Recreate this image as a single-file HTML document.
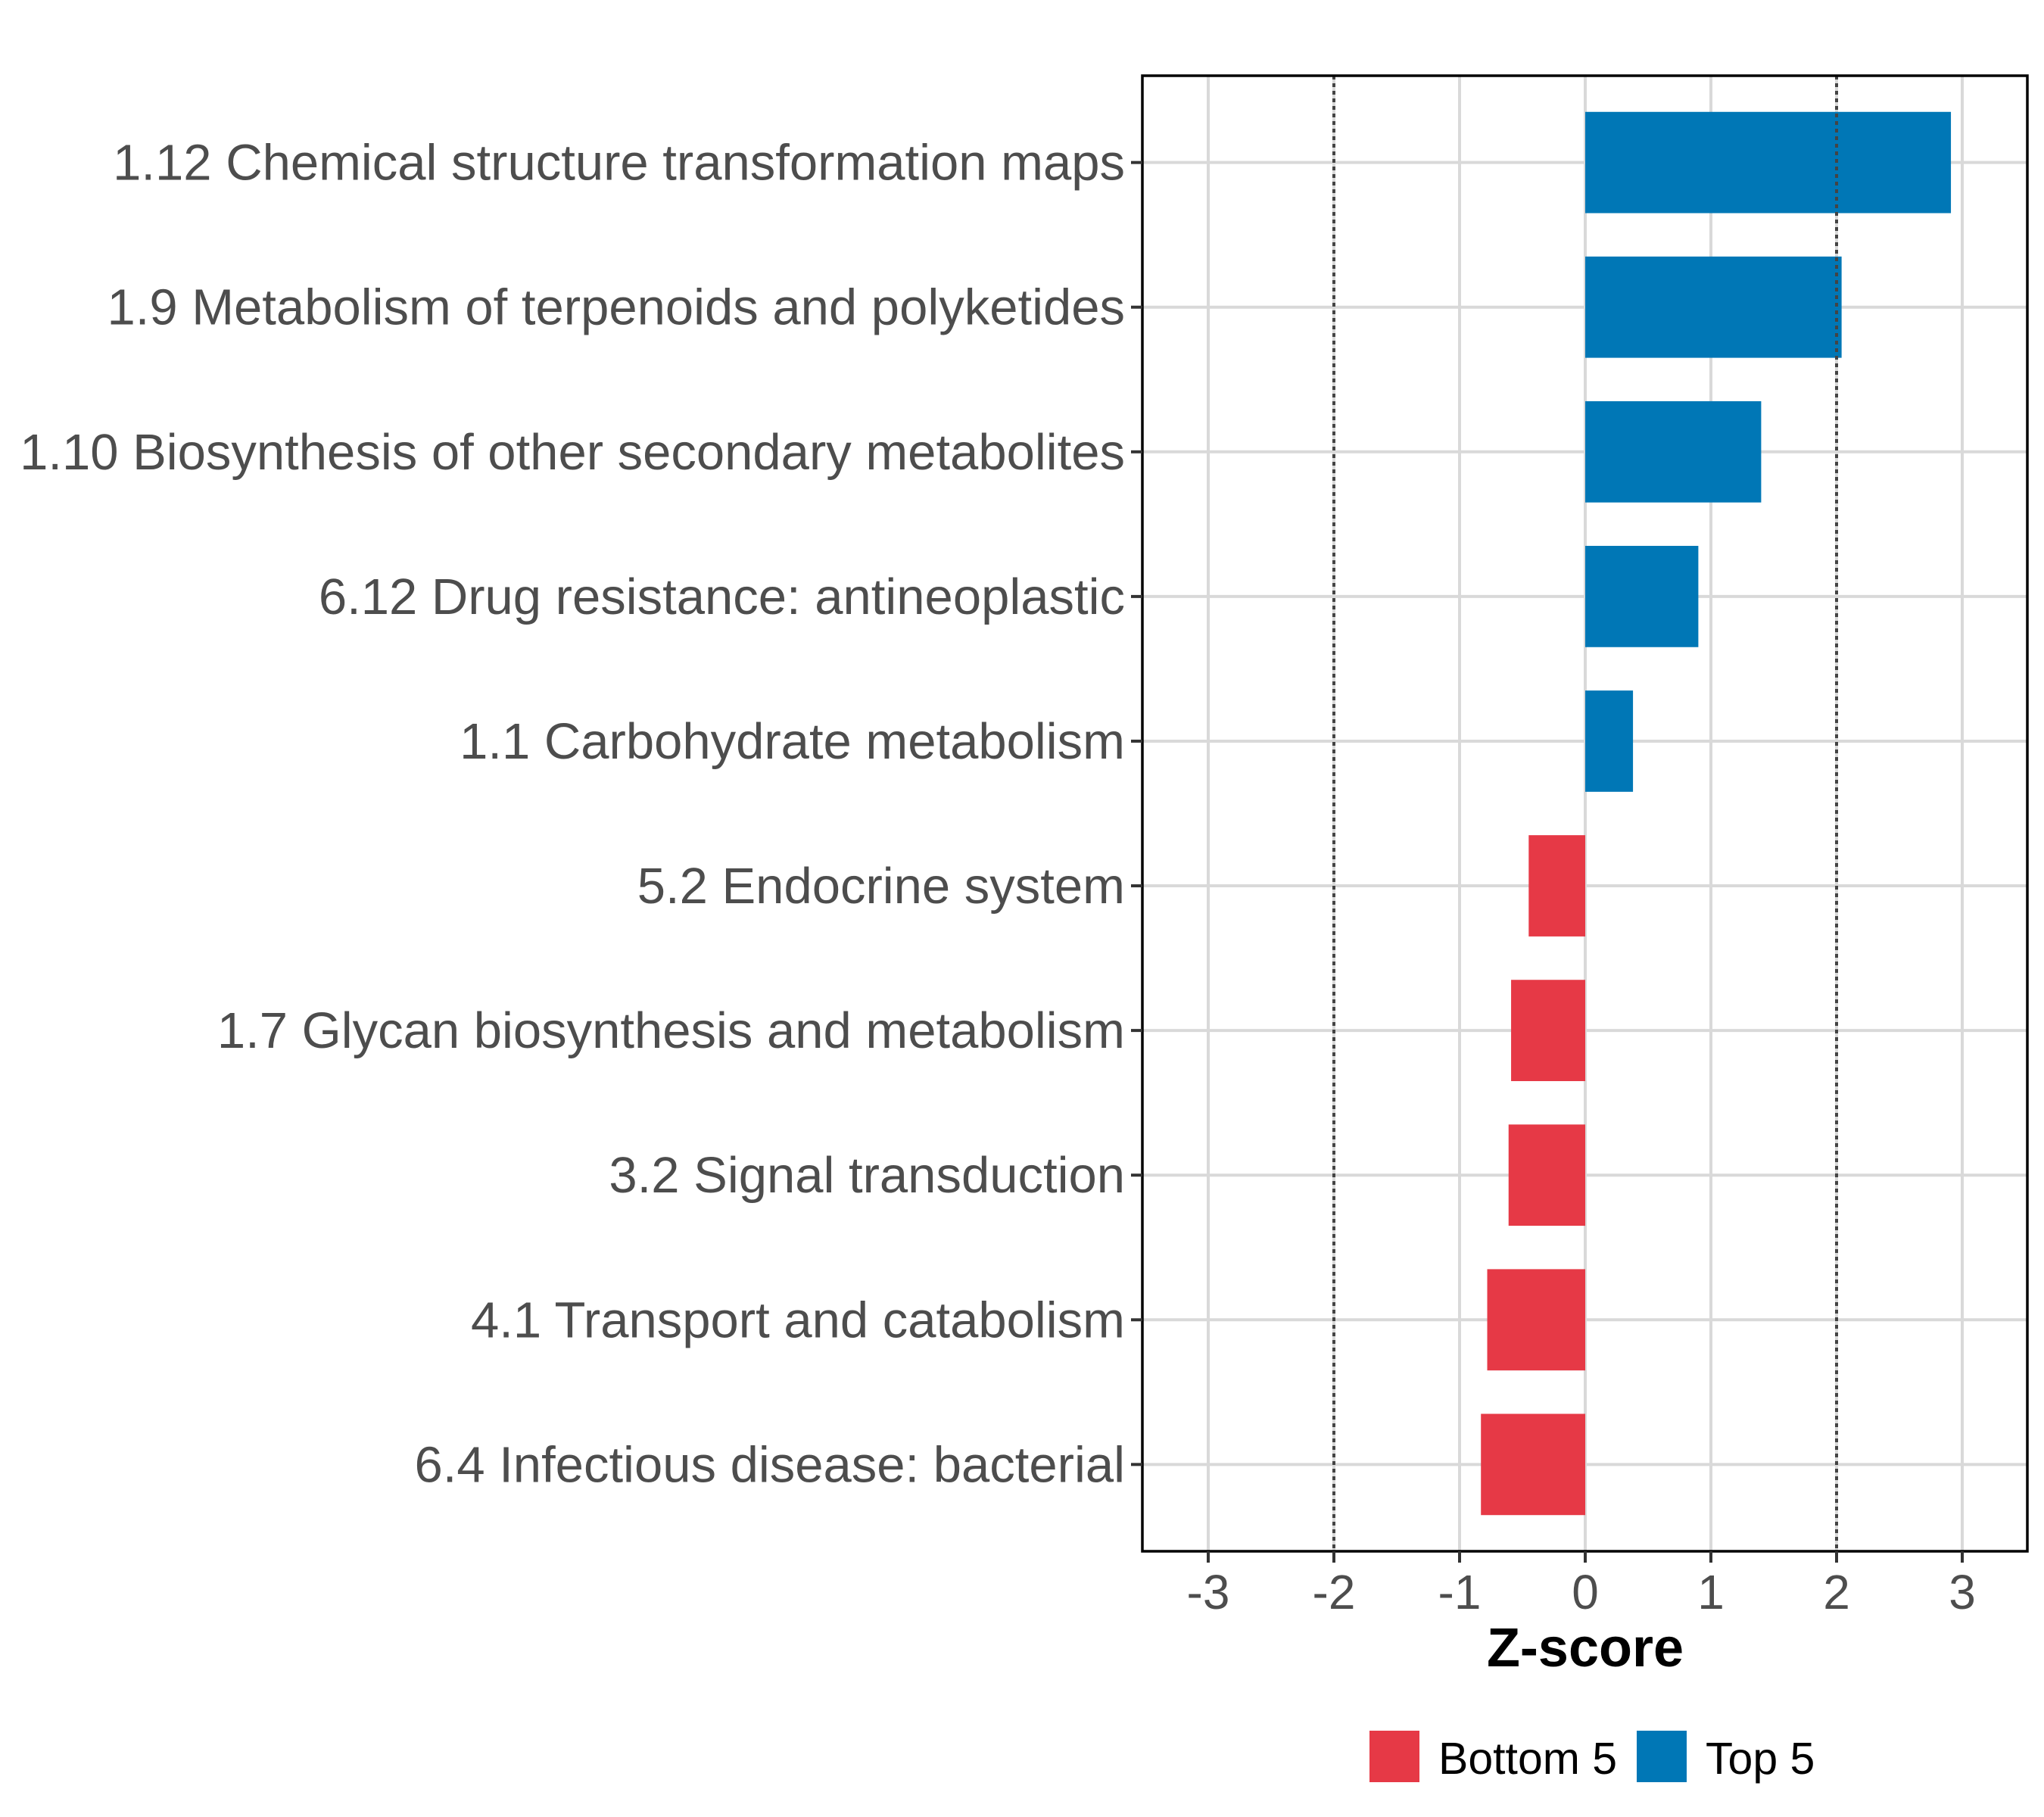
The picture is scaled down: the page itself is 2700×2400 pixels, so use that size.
<!DOCTYPE html>
<html><head><meta charset="utf-8"><style>
html,body{margin:0;padding:0;background:#fff;}
svg{display:block;font-family:"Liberation Sans",sans-serif;}
</style></head><body>
<svg id="chart" width="2700" height="2400" viewBox="0 0 2700 2400"></svg>
<script>
const categories=["1.12 Chemical structure transformation maps","1.9 Metabolism of terpenoids and polyketides","1.10 Biosynthesis of other secondary metabolites","6.12 Drug resistance: antineoplastic","1.1 Carbohydrate metabolism","5.2 Endocrine system","1.7 Glycan biosynthesis and metabolism","3.2 Signal transduction","4.1 Transport and catabolism","6.4 Infectious disease: bacterial"];
const values=[2.91,2.04,1.40,0.90,0.38,-0.45,-0.59,-0.61,-0.78,-0.83];
const groups=["Top 5","Top 5","Top 5","Top 5","Top 5","Bottom 5","Bottom 5","Bottom 5","Bottom 5","Bottom 5"];
const xTicks=[-3,-2,-1,0,1,2,3];
const refLines=[-2,2];
const legendLabels=["Bottom 5","Top 5"];

const NS="http://www.w3.org/2000/svg";
const svg=document.getElementById('chart');
const L=1509,R=2678,T=100,B=2049;
const x0=2094,unit=166;
const xs=v=>x0+v*unit;
const step=(B-T)/(categories.length-1+1.2);
const ys=i=>T+step*(0.6+i);
const colors={"Top 5":"#0077b6","Bottom 5":"#e63946"};
function mk(tag,attrs,parent){const e=document.createElementNS(NS,tag);for(const k in attrs)e.setAttribute(k,attrs[k]);(parent||svg).appendChild(e);return e;}

xTicks.forEach(t=>{const g=mk('line',{x1:xs(t),x2:xs(t),y1:T,y2:B,stroke:'#d9d9d9','stroke-width':4});

});
categories.forEach((c,i)=>{const g=mk('line',{x1:L,x2:R,y1:ys(i),y2:ys(i),stroke:'#d9d9d9','stroke-width':4});

});
values.forEach((v,i)=>{const h=step*0.7;const b=mk('rect',{x:Math.min(xs(0),xs(v)),y:ys(i)-h/2,width:Math.abs(xs(v)-xs(0)),height:h,fill:colors[groups[i]]});

});
refLines.forEach(r=>{const l=mk('line',{x1:xs(r),x2:xs(r),y1:T,y2:B,stroke:'#444','stroke-width':4,'stroke-dasharray':'5 5'});

});
const pb=mk('rect',{x:L,y:T,width:R-L,height:B-T,fill:'none',stroke:'#000','stroke-width':3.5});


categories.forEach((c,i)=>{mk('line',{x1:L-15,x2:L,y1:ys(i),y2:ys(i),stroke:'#333','stroke-width':4});
const t=mk('text',{x:1486,y:ys(i)+23,'text-anchor':'end','font-size':67,fill:'#4d4d4d'});t.textContent=c;

});
xTicks.forEach(v=>{mk('line',{x1:xs(v),x2:xs(v),y1:B,y2:B+15,stroke:'#333','stroke-width':4});
const t=mk('text',{x:xs(v),y:2125,'text-anchor':'middle','font-size':64,fill:'#4d4d4d'});t.textContent=String(v);

});
const xt=mk('text',{x:xs(0),y:2201,'text-anchor':'middle','font-size':72,'font-weight':'bold',fill:'#000'});xt.textContent='Z-score';


const lx=[1809,2162];
legendLabels.forEach((lab,i)=>{const r=mk('rect',{x:lx[i],y:2286,width:66,height:68,fill:colors[lab]});


const t=mk('text',{x:lx[i]+91,y:2343,'font-size':59,fill:'#000'});t.textContent=lab;

});
</script>
</body></html>
